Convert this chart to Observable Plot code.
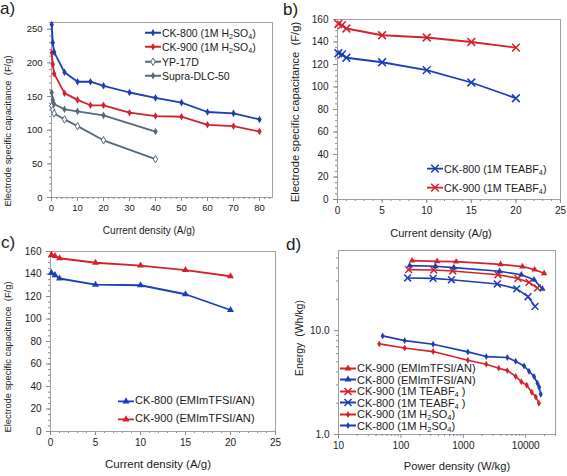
<!DOCTYPE html>
<html><head><meta charset="utf-8">
<script src="https://cdn.jsdelivr.net/npm/d3@7"></script>
<script src="https://cdn.jsdelivr.net/npm/@observablehq/plot@0.6"></script>
<style>
body{margin:0;background:#fff;font-family:"Liberation Sans",Arial,sans-serif;color:#1a1a1a}
#root{position:relative;width:567px;height:476px;overflow:hidden;background:#fff}
.lab{position:absolute;white-space:nowrap;line-height:1}
.ylab{position:absolute;white-space:nowrap;line-height:1;transform:translate(-50%,-50%) rotate(-90deg)}
.xlab{position:absolute;white-space:nowrap;line-height:1;transform:translate(-50%,-50%)}
.leg{position:absolute;display:flex;align-items:center;white-space:nowrap;line-height:1;transform:translateY(-50%)}
.leg svg{margin-right:1px;flex:none}
sub{font-size:0.68em;vertical-align:-0.28em;line-height:0}
</style></head><body><div id="root"></div><script>
// ---------- data ----------
const BLUE = "#1c3db5", RED = "#d3222c", SLATE = "#56697a", TICK = "#8a8a8a", TXT = "#1a1a1a";

// panel a (1M H2SO4, capacitance vs current density)
const aCurrent = [0.1, 0.5, 1, 5, 10, 15, 20, 30, 40, 50, 60, 70, 80];
const aCK800 = [257, 230, 216, 186, 172, 172, 166, 156, 148, 141, 127, 125, 116];
const aCK900 = [215, 198, 184, 155, 145, 137, 137, 126, 121, 120, 108, 106, 98];
const aCurrentRef = [0.1, 0.5, 1, 5, 10, 20, 40];
const aYP17D = [136, 130, 125, 116, 106, 85, 57];
const aSupra = [156, 145, 139, 131, 128, 122, 98];
const aYTicks = [0, 50, 100, 150, 200, 250];
const aXTicks = [0, 10, 20, 30, 40, 50, 60, 70, 80];

// panel b (1M TEABF4)
const bCurrent = [0.1, 0.5, 1, 5, 10, 15, 20];
const bCK800 = [130, 129, 126, 122, 115, 104, 90];
const bCK900 = [156, 155, 152, 146, 144, 140, 135];
const bYTicks = [0, 20, 40, 60, 80, 100, 120, 140, 160];
const bXTicks = [0, 5, 10, 15, 20, 25];

// panel c (EMImTFSI/AN)
const cCurrent = [0.1, 0.5, 1, 5, 10, 15, 20];
const cCK800 = [141, 139, 136, 130.5, 130, 122, 108];
const cCK900 = [157, 156, 154, 150, 147.5, 143.5, 138];
const cYTicks = [0, 20, 40, 60, 80, 100, 120, 140, 160];
const cXTicks = [0, 5, 10, 15, 20, 25];

// panel d (Ragone)
const dP_900EMIm = [151, 380, 767, 3960, 8840, 13900, 19700];
const dE_900EMIm = [47.1, 46.4, 46.1, 43.4, 41.3, 38.6, 35.6];
const dP_800EMIm = [138, 357, 705, 3820, 8510, 13600, 18500];
const dE_800EMIm = [42.2, 41.6, 40.4, 37.2, 34.5, 30.9, 25.2];
const dP_900TEA = [133, 336, 679, 3590, 7520, 11300, 15400];
const dE_900TEA = [38.6, 38.3, 37.5, 34.5, 31.8, 29.1, 25.7];
const dP_800TEA = [128, 328, 646, 3500, 7170, 10900, 14100];
const dE_800TEA = [32.1, 31.8, 30.9, 28.1, 25.2, 21.2, 17.1];
const dP_900H2SO4 = [45, 115, 328, 1180, 2330, 3690, 5070, 6900, 8500, 10400, 12500, 14500, 16300];
const dE_900H2SO4 = [7.45, 6.81, 6.28, 5.18, 4.74, 4.35, 4.12, 3.62, 3.22, 2.98, 2.55, 2.3, 2.0];
const dP_800H2SO4 = [51, 115, 328, 1180, 2330, 5070, 6900, 9400, 11300, 13600, 15400, 16400, 17400];
const dE_800H2SO4 = [8.89, 8.01, 7.39, 6.24, 5.62, 5.5, 5.07, 4.57, 4.06, 3.61, 3.12, 2.85, 2.44];
const dYTicks = [1, 10];
const dXTicks = [10, 100, 1000, 10000];

// ---------- helpers ----------
const root = document.getElementById("root");
const rows = (xs, ys) => xs.map((x, i) => ({x, y: ys[i]}));

function series(xs, ys, color, symbol, r, sw = 1.8) {
  const data = rows(xs, ys);
  let dotOpts = {x: "x", y: "y", symbol, r};
  if (symbol === "times") Object.assign(dotOpts, {stroke: color, strokeWidth: 1.5, fill: "none"});
  else if (symbol === "open") Object.assign(dotOpts, {symbol: "diamond", fill: "white", stroke: color, strokeWidth: 1});
  else Object.assign(dotOpts, {fill: color, stroke: "none"});
  return [Plot.line(data, {x: "x", y: "y", stroke: color, strokeWidth: sw}), Plot.dot(data, dotOpts)];
}

function axes({xTicks, yTicks, xMinor, yMinor, xFmt, yFmt}) {
  return [
    Plot.axisY({ticks: yTicks, tickSize: 4, tickPadding: 5, stroke: TICK, fill: TXT, label: null, tickFormat: yFmt}),
    Plot.axisY({ticks: yMinor, tickSize: 2, stroke: TICK, label: null, tickFormat: () => ""}),
    Plot.axisX({ticks: xTicks, tickSize: 4, tickPadding: 3, stroke: TICK, fill: TXT, label: null, tickFormat: xFmt}),
    Plot.axisX({ticks: xMinor, tickSize: 2, stroke: TICK, label: null, tickFormat: () => ""})
  ];
}

function place(svg, left, top) {
  svg.style.position = "absolute";
  svg.style.left = left + "px";
  svg.style.top = top + "px";
  root.appendChild(svg);
}

function text(cls, html, x, y, size) {
  const d = document.createElement("div");
  d.className = cls;
  d.innerHTML = html;
  d.style.left = x + "px";
  d.style.top = y + "px";
  d.style.fontSize = size + "px";
  root.appendChild(d);
}

function swatch(color, sym, size, mode) {
  const ns = "http://www.w3.org/2000/svg";
  const s = document.createElementNS(ns, "svg");
  s.setAttribute("width", 16); s.setAttribute("height", 10);
  const l = document.createElementNS(ns, "line");
  l.setAttribute("x1", 0); l.setAttribute("x2", 16); l.setAttribute("y1", 5); l.setAttribute("y2", 5);
  l.setAttribute("stroke", color); l.setAttribute("stroke-width", 1.8);
  s.appendChild(l);
  const p = document.createElementNS(ns, "path");
  p.setAttribute("d", d3.symbol(sym, size)());
  p.setAttribute("transform", "translate(8,5)");
  if (mode === "stroke") { p.setAttribute("fill", "none"); p.setAttribute("stroke", color); p.setAttribute("stroke-width", 1.5); }
  else if (mode === "open") { p.setAttribute("fill", "white"); p.setAttribute("stroke", color); p.setAttribute("stroke-width", 1); }
  else p.setAttribute("fill", color);
  s.appendChild(p);
  return s;
}

function legend(items, left, tops, size) {
  items.forEach((it, i) => {
    const d = document.createElement("div");
    d.className = "leg";
    d.style.left = left + "px";
    d.style.top = tops[i] + "px";
    d.style.fontSize = size + "px";
    d.appendChild(swatch(it.color, it.sym, it.size, it.mode));
    const t = document.createElement("span");
    t.innerHTML = it.label;
    d.appendChild(t);
    root.appendChild(d);
  });
}

const baseStyle = (fs) => `font-family:"Liberation Sans",Arial,sans-serif;font-size:${fs}px;background:none;overflow:visible;color:${TXT}`;

// ---------- panel a ----------
place(Plot.plot({
  width: 283, height: 238, marginLeft: 51, marginRight: 11, marginTop: 22, marginBottom: 41,
  style: baseStyle(9.5),
  x: {domain: [0, 85]}, y: {domain: [0, 260]},
  marks: [
    Plot.frame({stroke: "#a0a0a0"}),
    ...axes({xTicks: aXTicks, yTicks: aYTicks, xMinor: d3.range(0, 85, 2), yMinor: d3.range(0, 261, 10)}),
    ...series(aCurrentRef, aYP17D, SLATE, "open", 2.3),
    ...series(aCurrentRef, aSupra, SLATE, "diamond", 2.3),
    ...series(aCurrent, aCK900, RED, "diamond", 2.3),
    ...series(aCurrent, aCK800, BLUE, "diamond", 2.3)
  ]
}), 0, 0);

// ---------- panel b ----------
place(Plot.plot({
  width: 284, height: 238, marginLeft: 54, marginRight: 7, marginTop: 19, marginBottom: 39,
  style: baseStyle(10),
  x: {domain: [0, 25]}, y: {domain: [0, 160]},
  marks: [
    Plot.frame({stroke: "#a0a0a0"}),
    ...axes({xTicks: bXTicks, yTicks: bYTicks, xMinor: d3.range(0, 25.01, 1), yMinor: d3.range(0, 161, 5)}),
    ...series(bCurrent, bCK900, RED, "times", 3.6),
    ...series(bCurrent, bCK800, BLUE, "times", 3.6)
  ]
}), 283, 0);

// ---------- panel c ----------
place(Plot.plot({
  width: 283, height: 240, marginLeft: 50, marginRight: 8, marginTop: 15, marginBottom: 45,
  style: baseStyle(10),
  x: {domain: [0, 25]}, y: {domain: [0, 160]},
  marks: [
    Plot.frame({stroke: "#a0a0a0"}),
    ...axes({xTicks: cXTicks, yTicks: cYTicks, xMinor: d3.range(0, 25.01, 1), yMinor: d3.range(0, 161, 5)}),
    ...series(cCurrent, cCK900, RED, "triangle", 2.6),
    ...series(cCurrent, cCK800, BLUE, "triangle", 2.6)
  ]
}), 0, 236);

// ---------- panel d ----------
const logMinor = (lo, hi) => {
  const out = [];
  for (let p = lo; p < hi; p *= 10) for (let k = 2; k <= 9; k++) out.push(k * p);
  return out;
};
place(Plot.plot({
  width: 284, height: 240, marginLeft: 55, marginRight: 12, marginTop: 14, marginBottom: 42,
  style: baseStyle(10),
  x: {type: "log", domain: [10, 30000]}, y: {type: "log", domain: [1, 59]},
  marks: [
    Plot.frame({stroke: "#a0a0a0"}),
    ...axes({xTicks: dXTicks, yTicks: dYTicks, xMinor: logMinor(10, 10000).concat([20000, 30000]), yMinor: logMinor(1, 10).concat([20, 30, 40, 50]),
      xFmt: d3.format("d"), yFmt: d => d.toFixed(1)}),
    ...series(dP_900H2SO4, dE_900H2SO4, RED, "diamond", 2.1, 1.6),
    ...series(dP_800H2SO4, dE_800H2SO4, BLUE, "diamond", 2.1, 1.6),
    ...series(dP_800TEA, dE_800TEA, BLUE, "times", 3.2, 1.6),
    ...series(dP_900TEA, dE_900TEA, RED, "times", 3.2, 1.6),
    ...series(dP_800EMIm, dE_800EMIm, BLUE, "triangle", 2.4, 1.6),
    ...series(dP_900EMIm, dE_900EMIm, RED, "triangle", 2.4, 1.6)
  ]
}), 283, 236);

// ---------- texts ----------
text("lab", "a)", 0, 0, 17);
text("lab", "b)", 283, 1, 17);
text("lab", "c)", 1, 234, 17);
text("lab", "d)", 286, 236, 17);

const yTitle = "Electrode specific capacitance&nbsp;&nbsp;(F/g)";
text("ylab", yTitle, 8, 131, 9.4);
text("xlab", "Current density (A/g)", 149, 231, 10);
text("ylab", yTitle, 296, 112, 11.2);
text("xlab", "Current density (A/g)", 441, 233, 11);
text("ylab", yTitle, 8, 357, 9.4);
text("xlab", "Current density (A/g)", 158, 465, 11.5);
text("ylab", "Energy&nbsp;&nbsp;(Wh/kg)", 299, 338, 10.5);
text("xlab", "Power density (W/kg)", 457, 467, 11.2);

// ---------- legends ----------
legend([
  {label: "CK-800 (1M H<sub>2</sub>SO<sub>4</sub>)", color: BLUE, sym: d3.symbolDiamond, size: 16},
  {label: "CK-900 (1M H<sub>2</sub>SO<sub>4</sub>)", color: RED, sym: d3.symbolDiamond, size: 16},
  {label: "YP-17D", color: SLATE, sym: d3.symbolDiamond, size: 16, mode: "open"},
  {label: "Supra-DLC-50", color: SLATE, sym: d3.symbolDiamond, size: 16}
], 145, [33, 47, 62, 76], 10.5);

legend([
  {label: "CK-800 (1M TEABF<sub>4</sub>)", color: BLUE, sym: d3.symbolTimes, size: 40, mode: "stroke"},
  {label: "CK-900 (1M TEABF<sub>4</sub>)", color: RED, sym: d3.symbolTimes, size: 40, mode: "stroke"}
], 427, [169, 188], 10.7);

legend([
  {label: "CK-800 (EMImTFSI/AN)", color: BLUE, sym: d3.symbolTriangle, size: 22},
  {label: "CK-900 (EMImTFSI/AN)", color: RED, sym: d3.symbolTriangle, size: 22}
], 118, [401, 419], 11.1);

legend([
  {label: "CK-900 (EMImTFSI/AN)", color: RED, sym: d3.symbolTriangle, size: 20},
  {label: "CK-800 (EMImTFSI/AN)", color: BLUE, sym: d3.symbolTriangle, size: 20},
  {label: "CK-900 (1M TEABF<sub>4</sub> )", color: RED, sym: d3.symbolTimes, size: 34, mode: "stroke"},
  {label: "CK-800 (1M TEABF<sub>4</sub> )", color: BLUE, sym: d3.symbolTimes, size: 34, mode: "stroke"},
  {label: "CK-900 (1M H<sub>2</sub>SO<sub>4</sub>)", color: RED, sym: d3.symbolDiamond, size: 14},
  {label: "CK-800 (1M H<sub>2</sub>SO<sub>4</sub>)", color: BLUE, sym: d3.symbolDiamond, size: 14}
], 340, [368, 379.5, 391, 402.7, 414.2, 425.7], 11);
</script></body></html>
